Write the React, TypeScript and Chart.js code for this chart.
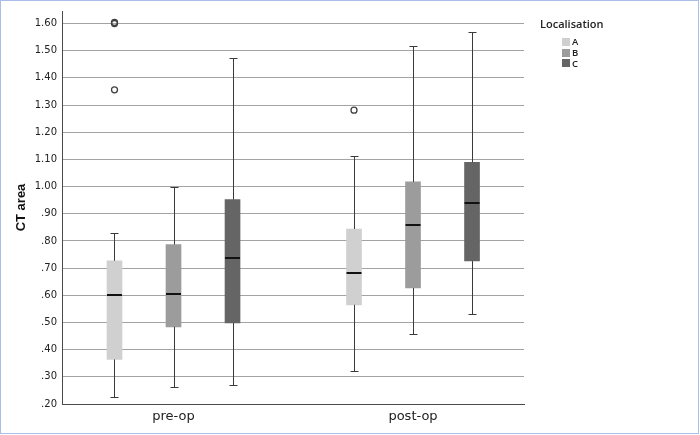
import React, { useEffect, useRef } from 'react';
import { Chart, registerables } from 'chart.js';

Chart.register(...registerables);

// ---- data ----
const CATEGORIES = ['pre-op', 'post-op'];
const SERIES = ['A', 'B', 'C'];
const LEGEND_TITLE = 'Localisation';
const Y_TITLE = 'CT area';
const Y_TICKS = [0.2, 0.3, 0.4, 0.5, 0.6, 0.7, 0.8, 0.9, 1.0, 1.1, 1.2, 1.3, 1.4, 1.5, 1.6];

// [series][category]
const WHISKER_LOW = [
  [0.225, 0.32],
  [0.261, 0.457],
  [0.269, 0.531],
];
const Q1 = [
  [0.364, 0.565],
  [0.484, 0.627],
  [0.498, 0.726],
];
const MEDIAN = [
  [0.601, 0.683],
  [0.604, 0.859],
  [0.739, 0.941],
];
const Q3 = [
  [0.727, 0.844],
  [0.787, 1.017],
  [0.952, 1.089],
];
const WHISKER_HIGH = [
  [0.829, 1.112],
  [0.997, 1.517],
  [1.473, 1.57],
];
const OUTLIERS = [
  [[1.356, 1.6, 1.604], [1.281]],
  [[], []],
  [[], []],
];

// ---- styling / layout ----
const COLORS = ['#d0d0d0', '#9c9c9c', '#656565'];
const SERIES_OFFSET = 0.2464;
const X_MIN = 0.5344;
const X_MAX = 2.4634;
const Y_MIN = 0.2;
const Y_MAX = 1.646;

const fmtTick = (v: number) => {
  const s = v.toFixed(2);
  return s.startsWith('0') ? s.slice(1) : s;
};

const boxPlugin = {
  id: 'boxWhiskers',
  afterDatasetsDraw(chart: any) {
    const { ctx, scales } = chart;
    const y = scales.y;
    ctx.save();
    SERIES.forEach((_, s) => {
      const meta = chart.getDatasetMeta(s);
      CATEGORIES.forEach((__, i) => {
        const bar: any = meta.data[i];
        if (!bar) return;
        const cx = Math.round(bar.x) + 0.5;
        const half = bar.width / 2;
        const yLo = Math.round(y.getPixelForValue(WHISKER_LOW[s][i])) + 0.5;
        const yHi = Math.round(y.getPixelForValue(WHISKER_HIGH[s][i])) + 0.5;
        const yQ1 = y.getPixelForValue(Q1[s][i]);
        const yQ3 = y.getPixelForValue(Q3[s][i]);
        const yMed = Math.round(y.getPixelForValue(MEDIAN[s][i]));
        ctx.strokeStyle = '#3a3a3a';
        ctx.lineWidth = 1;
        ctx.beginPath();
        ctx.moveTo(cx, yQ3);
        ctx.lineTo(cx, yHi);
        ctx.moveTo(cx, yQ1);
        ctx.lineTo(cx, yLo);
        ctx.moveTo(cx - 4, yHi);
        ctx.lineTo(cx + 4, yHi);
        ctx.moveTo(cx - 4, yLo);
        ctx.lineTo(cx + 4, yLo);
        ctx.stroke();
        ctx.strokeStyle = '#111111';
        ctx.lineWidth = 2;
        ctx.beginPath();
        ctx.moveTo(bar.x - half, yMed);
        ctx.lineTo(bar.x + half, yMed);
        ctx.stroke();
      });
    });
    ctx.restore();
  },
};

const legendPlugin = {
  id: 'customLegend',
  afterDraw(chart: any) {
    const { ctx } = chart;
    ctx.save();
    ctx.fillStyle = '#222';
    ctx.font = '600 11px "Open Sans"';
    ctx.textAlign = 'left';
    ctx.textBaseline = 'middle';
    ctx.fillText(LEGEND_TITLE, 540, 25);
    ctx.font = '600 9.5px "Open Sans"';
    SERIES.forEach((name, s) => {
      const cy = 42 + s * 10.7;
      ctx.fillStyle = COLORS[s];
      ctx.fillRect(562, Math.round(cy - 4), 8, 8);
      ctx.fillStyle = '#222';
      ctx.fillText(name, 572, cy + 0.5);
    });
    ctx.restore();
  },
};

export default function App() {
  const ref = useRef<HTMLCanvasElement>(null);

  useEffect(() => {
    if (!ref.current) return;
    const barSets = SERIES.map((name, s) => ({
      type: 'bar' as const,
      label: name,
      data: CATEGORIES.map((_, i) => ({
        x: i + 1 + (s - 1) * SERIES_OFFSET,
        y: [Q1[s][i], Q3[s][i]],
      })),
      backgroundColor: COLORS[s],
      borderWidth: 0,
      borderSkipped: false,
      barThickness: 15,
      grouped: false,
    }));
    const outlierPoints: { x: number; y: number }[] = [];
    SERIES.forEach((_, s) => {
      CATEGORIES.forEach((__, i) => {
        OUTLIERS[s][i].forEach((v) => {
          outlierPoints.push({ x: i + 1 + (s - 1) * SERIES_OFFSET, y: v });
        });
      });
    });
    const chart = new Chart(ref.current, {
      type: 'bar',
      data: {
        datasets: [
          ...barSets,
          {
            type: 'scatter' as const,
            label: 'outliers',
            data: outlierPoints,
            pointStyle: 'circle',
            pointRadius: 3,
            borderColor: '#404040',
            borderWidth: 1.3,
            backgroundColor: 'rgba(255,255,255,0)',
          } as any,
        ],
      },
      options: {
        animation: false,
        responsive: false,
        events: [],
        layout: { padding: { left: 0, top: 4, right: 176, bottom: 0 } },
        plugins: { legend: { display: false }, tooltip: { enabled: false } },
        scales: {
          x: {
            type: 'linear',
            min: X_MIN,
            max: X_MAX,
            offset: false,
            grid: { display: false, offset: false, drawTicks: false },
            border: { display: true, color: '#4a4a4a', width: 1 },
            afterBuildTicks: (scale: any) => {
              scale.ticks = CATEGORIES.map((_, i) => ({ value: i + 1 }));
            },
            afterFit: (scale: any) => {
              scale.height = 31;
            },
            ticks: {
              autoSkip: false,
              maxRotation: 0,
              padding: 5,
              color: '#222',
              font: { family: '"DejaVu Sans"', size: 13 },
              callback: (v: any) => CATEGORIES[Math.round(Number(v)) - 1] ?? '',
            },
          },
          y: {
            type: 'linear',
            min: Y_MIN,
            max: Y_MAX,
            beginAtZero: false,
            grid: { color: '#a3a3a3', lineWidth: 1, drawTicks: false },
            border: { display: true, color: '#4a4a4a', width: 1 },
            afterBuildTicks: (scale: any) => {
              scale.ticks = Y_TICKS.map((v) => ({ value: v }));
            },
            afterFit: (scale: any) => {
              scale.width = 62;
            },
            ticks: {
              padding: 5,
              color: '#222',
              font: { family: '"DejaVu Sans"', size: 10 },
              callback: (v: any) => fmtTick(Number(v)),
            },
            title: {
              display: true,
              text: Y_TITLE,
              color: '#111',
              font: { family: '"Liberation Sans"', size: 13, weight: 'bold' },
              padding: { top: 14, bottom: 0 },
            },
          },
        },
      } as any,
      plugins: [boxPlugin, legendPlugin],
    });
    return () => chart.destroy();
  }, []);

  return (
    <div style={{ position: 'fixed', left: 0, top: 0, width: 700, height: 435, background: '#fff' }}>
      <canvas ref={ref} width={700} height={435} style={{ display: 'block' }} />
      <div
        style={{
          position: 'absolute',
          left: 0,
          top: 0,
          width: 699,
          height: 434,
          boxSizing: 'border-box',
          border: '1px solid #a9bfe8',
          pointerEvents: 'none',
        }}
      />
    </div>
  );
}
